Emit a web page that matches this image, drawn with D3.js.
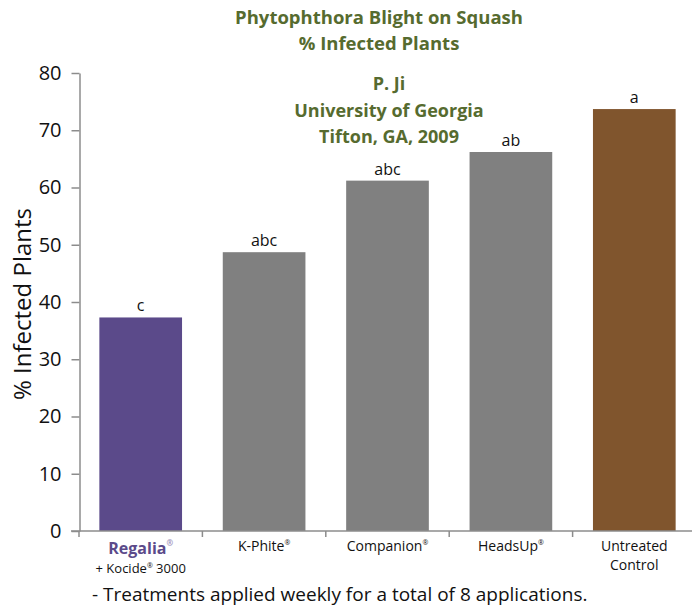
<!DOCTYPE html>
<html>
<head>
<meta charset="utf-8">
<script src="https://cdn.jsdelivr.net/npm/d3@7"></script>
<style>
body { margin: 0; background: #fff; }
text { font-family: "Open Sans", "Noto Sans", sans-serif; }
</style>
</head>
<body>
<script>
var width = 692, height = 609;

// data
var treatments = ["Regalia", "K-Phite", "Companion", "HeadsUp", "Untreated Control"];
var infected = [37.3, 48.7, 61.2, 66.2, 73.7];
var letters = ["c", "abc", "abc", "ab", "a"];
var yTicks = [0, 10, 20, 30, 40, 50, 60, 70, 80];
var barColors = ["#5b4a8a", "#808080", "#808080", "#808080", "#80552d"];

var titleLines = ["Phytophthora Blight on Squash", "% Infected Plants"];
var sourceLines = ["P. Ji", "University of Georgia", "Tifton, GA, 2009"];
var green = "#566b2f";

var svg = d3.select("body").append("svg")
    .attr("width", width)
    .attr("height", height);

var x = d3.scaleBand()
    .domain(treatments)
    .range([79, 696])
    .paddingInner(0.33)
    .paddingOuter(0.165);

var y = d3.scaleLinear()
    .domain([0, 80])
    .range([531, 73]);

// y axis
var yAxis = svg.append("g")
    .attr("transform", "translate(79.5,0)")
    .call(d3.axisLeft(y).tickValues(yTicks).tickSize(8).tickSizeOuter(0).tickPadding(10));
yAxis.selectAll("path, line").attr("stroke", "#8c8c8c").attr("stroke-width", 1.5);
yAxis.selectAll("text").attr("font-size", 20).attr("fill", "#111")
    .style("font-family", "'Open Sans', sans-serif");

// bars
svg.append("g").selectAll("rect")
    .data(treatments)
    .enter()
    .append("rect")
    .attr("x", function(d){ return x(d); })
    .attr("width", x.bandwidth())
    .attr("y", function(d, i){ return y(infected[i]); })
    .attr("height", function(d, i){ return y(0) - y(infected[i]); })
    .attr("fill", function(d, i){ return barColors[i]; });

// x axis line and boundary ticks
svg.append("line")
    .attr("x1", 71).attr("x2", width)
    .attr("y1", 531).attr("y2", 531)
    .attr("stroke", "#8c8c8c").attr("stroke-width", 1.5);

var x0 = x.range()[0], step = x.step();
svg.append("g").selectAll("line")
    .data(d3.range(treatments.length))
    .enter()
    .append("line")
    .attr("x1", function(i){ return x0 + i * step; })
    .attr("x2", function(i){ return x0 + i * step; })
    .attr("y1", 531).attr("y2", 537)
    .attr("stroke", "#8c8c8c").attr("stroke-width", 1.5);

// significance letters
svg.append("g").selectAll("text")
    .data(treatments)
    .enter()
    .append("text")
    .attr("x", function(d){ return x(d) + x.bandwidth() / 2; })
    .attr("y", function(d, i){ return y(infected[i]) - 6; })
    .attr("text-anchor", "middle")
    .attr("font-size", 16)
    .attr("fill", "#111")
    .text(function(d, i){ return letters[i]; });

// category labels
function cx(i){ return x(treatments[i]) + x.bandwidth() / 2; }

var reg = svg.append("text")
    .attr("x", cx(0)).attr("y", 554)
    .attr("text-anchor", "middle")
    .attr("font-size", 16).attr("font-weight", "bold")
    .attr("fill", "#5b4a8a");
reg.append("tspan").text("Regalia");
reg.append("tspan").attr("font-size", 8).attr("dy", -8).attr("fill", "#9a90bb").text("®");

var koc = svg.append("text")
    .attr("x", cx(0)).attr("y", 573)
    .attr("text-anchor", "middle")
    .attr("font-size", 13).attr("fill", "#111");
koc.append("tspan").text("+ Kocide");
koc.append("tspan").attr("font-size", 7).attr("dy", -5).text("®");
koc.append("tspan").attr("dy", 5).text(" 3000");

[1, 2, 3].forEach(function(i){
    var t = svg.append("text")
        .attr("x", cx(i)).attr("y", 551)
        .attr("text-anchor", "middle")
        .attr("font-size", 14).attr("fill", "#111");
    t.append("tspan").text(treatments[i]);
    t.append("tspan").attr("font-size", 7).attr("dy", -6).text("®");
});

svg.append("text")
    .attr("x", cx(4)).attr("y", 551)
    .attr("text-anchor", "middle")
    .attr("font-size", 14).attr("fill", "#111")
    .text("Untreated");
svg.append("text")
    .attr("x", cx(4)).attr("y", 570)
    .attr("text-anchor", "middle")
    .attr("font-size", 14).attr("fill", "#111")
    .text("Control");

// y axis title
svg.append("text")
    .attr("transform", "translate(31,304) rotate(-90)")
    .attr("text-anchor", "middle")
    .attr("font-size", 24).attr("fill", "#111")
    .text("% Infected Plants");

// titles
svg.append("g").selectAll("text")
    .data(titleLines)
    .enter()
    .append("text")
    .attr("x", 379)
    .attr("y", function(d, i){ return 24 + i * 26; })
    .attr("text-anchor", "middle")
    .attr("font-size", 18.5).attr("font-weight", "bold")
    .attr("fill", green)
    .text(function(d){ return d; });

svg.append("g").selectAll("text")
    .data(sourceLines)
    .enter()
    .append("text")
    .attr("x", 389)
    .attr("y", function(d, i){ return 90 + i * 26.5; })
    .attr("text-anchor", "middle")
    .attr("font-size", 18).attr("font-weight", "bold")
    .attr("fill", green)
    .text(function(d){ return d; });

// footnote
svg.append("text")
    .attr("x", 92).attr("y", 601)
    .attr("font-size", 19).attr("fill", "#111")
    .text("- Treatments applied weekly for a total of 8 applications.");
</script>
</body>
</html>
